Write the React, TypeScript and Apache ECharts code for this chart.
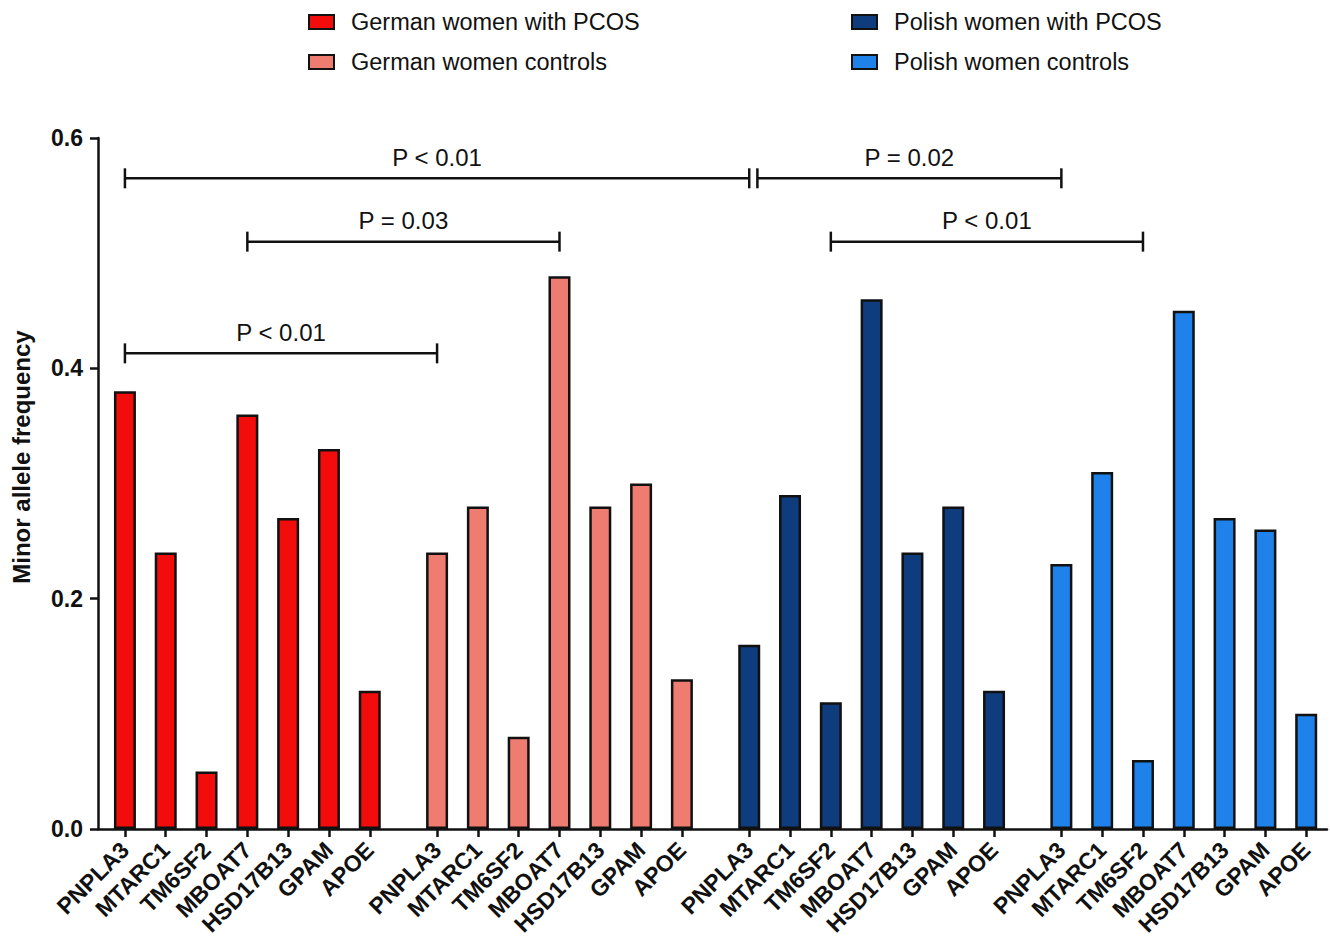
import React, { useEffect, useRef } from "react";
import * as echarts from "echarts";

const genes = ["PNPLA3", "MTARC1", "TM6SF2", "MBOAT7", "HSD17B13", "GPAM", "APOE"];
const groups = [
  "German women with PCOS",
  "German women controls",
  "Polish women with PCOS",
  "Polish women controls",
];
const germanPCOS = [0.38, 0.24, 0.05, 0.36, 0.27, 0.33, 0.12];
const germanControls = [0.24, 0.28, 0.08, 0.48, 0.28, 0.3, 0.13];
const polishPCOS = [0.16, 0.29, 0.11, 0.46, 0.24, 0.28, 0.12];
const polishControls = [0.23, 0.31, 0.06, 0.45, 0.27, 0.26, 0.1];
const groupValues = [germanPCOS, germanControls, polishPCOS, polishControls];
const groupColors = ["#f20c0c", "#ef7c71", "#0f3c7d", "#1f82ea"];
const yTicks = [0, 0.2, 0.4, 0.6];

// significance brackets: from [group, gene] to [group, gene], level, label, start nudge
const bracketFrom = [[0, 0], [2, 0], [0, 3], [2, 2], [0, 0]];
const bracketTo = [[2, 0], [3, 0], [1, 3], [3, 2], [1, 0]];
const bracketLevel = [0.565, 0.565, 0.51, 0.51, 0.413];
const bracketLabel = ["P < 0.01", "P = 0.02", "P = 0.03", "P < 0.01", "P < 0.01"];
const bracketNudge = [0, 0.2, 0, 0, 0];

const GROUP_STEP = 7.65;
const pos = (g: number, i: number) => g * GROUP_STEP + i;
const FONT = "Arial, 'Liberation Sans', Helvetica, sans-serif";

export default function App() {
  const ref = useRef<HTMLDivElement>(null);
  useEffect(() => {
    if (!ref.current) return;
    const chart = echarts.init(ref.current, null, { renderer: "svg" });
    const positions: number[] = [];
    const posLabel: { p: number; name: string }[] = [];
    groups.forEach((_, g) =>
      genes.forEach((name, i) => {
        positions.push(pos(g, i));
        posLabel.push({ p: pos(g, i), name });
      })
    );
    const labelFor = (v: number) => {
      const f = posLabel.find((d) => Math.abs(d.p - v) < 1e-6);
      return f ? f.name : "";
    };
    const bracketData = bracketFrom.map((f, k) => [
      pos(f[0], f[1]) + bracketNudge[k],
      pos(bracketTo[k][0], bracketTo[k][1]),
      bracketLevel[k],
    ]);

    const legendBase = {
      orient: "vertical",
      top: 5,
      itemWidth: 25,
      itemHeight: 14,
      itemGap: 16,
      icon: "rect",
      textStyle: { fontSize: 23.5, color: "#111", fontFamily: FONT, padding: [0, 0, 0, 12] },
    };

    const option: any = {
      animation: false,
      backgroundColor: "#ffffff",
      grid: { left: 98, right: 3, top: 138, bottom: 118, containLabel: false },
      legend: [
        { ...legendBase, left: 303, data: [groups[0], groups[1]] },
        { ...legendBase, left: 846, data: [groups[2], groups[3]] },
      ],
      xAxis: {
        type: "value",
        min: -0.66,
        max: 29.46,
        splitLine: { show: false },
        axisLine: { show: true, onZero: false, lineStyle: { color: "#111", width: 2.5 } },
        axisTick: { show: true, customValues: positions, length: 8, lineStyle: { color: "#111", width: 2.5 } },
        axisLabel: {
          customValues: positions,
          rotate: 45,
          margin: 17,
          formatter: (v: number) => labelFor(v),
          fontSize: 23,
          fontWeight: "bold",
          color: "#111",
          fontFamily: FONT,
        },
      },
      yAxis: {
        type: "value",
        min: yTicks[0],
        max: yTicks[yTicks.length - 1],
        interval: 0.2,
        splitLine: { show: false },
        axisLine: { show: true, onZero: false, lineStyle: { color: "#111", width: 2.5 } },
        axisTick: { show: true, length: 8, lineStyle: { color: "#111", width: 2.5 } },
        axisLabel: {
          formatter: (v: number) => v.toFixed(1),
          fontSize: 23,
          fontWeight: "bold",
          color: "#111",
          margin: 15,
          fontFamily: FONT,
        },
      },
      graphic: [
        {
          type: "text",
          x: 21,
          y: 457,
          rotation: Math.PI / 2,
          style: {
            text: "Minor allele frequency",
            font: `bold 24px ${FONT}`,
            fill: "#111",
            align: "center",
            verticalAlign: "middle",
          },
        },
      ],
      series: [
        ...groups.map((name, g) => ({
          type: "bar",
          name,
          data: groupValues[g].map((v, i) => [pos(g, i), v]),
          barWidth: 22,
          barGap: "-100%",
          itemStyle: { color: groupColors[g], borderColor: "#111", borderWidth: 2.5 },
        })),
        {
          type: "custom",
          name: "brackets",
          encode: { x: [0, 1], y: 2 },
          data: bracketData,
          z: 10,
          renderItem: (params: any, api: any) => {
            const k = params.dataIndex;
            const x1 = api.value(0);
            const x2 = api.value(1);
            const y = api.value(2);
            const p1 = api.coord([x1, y]);
            const p2 = api.coord([x2, y]);
            const st = { stroke: "#111", lineWidth: 2.5 };
            return {
              type: "group",
              children: [
                { type: "line", shape: { x1: p1[0], y1: p1[1], x2: p2[0], y2: p2[1] }, style: st },
                { type: "line", shape: { x1: p1[0], y1: p1[1] - 10, x2: p1[0], y2: p1[1] + 10 }, style: st },
                { type: "line", shape: { x1: p2[0], y1: p2[1] - 10, x2: p2[0], y2: p2[1] + 10 }, style: st },
                {
                  type: "text",
                  x: (p1[0] + p2[0]) / 2,
                  y: p1[1] - 21,
                  style: {
                    text: bracketLabel[k],
                    fill: "#111",
                    font: `24px ${FONT}`,
                    align: "center",
                    verticalAlign: "middle",
                  },
                },
              ],
            };
          },
        },
      ],
    };
    chart.setOption(option);
    return () => chart.dispose();
  }, []);
  return (
    <div
      ref={ref}
      style={{ position: "fixed", left: 0, top: 0, width: 1330, height: 947, background: "#fff" }}
    />
  );
}
